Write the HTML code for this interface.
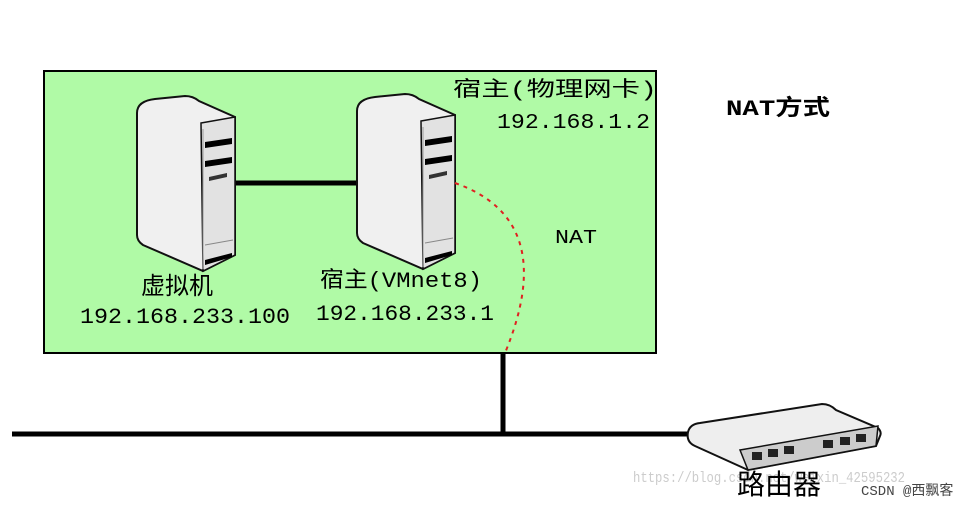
<!DOCTYPE html>
<html><head><meta charset="utf-8"><style>
body{margin:0;background:#fff;}
svg{display:block}
text{font-family:"Liberation Mono","Noto Sans CJK SC",monospace;}
</style></head><body>
<svg width="976" height="506" viewBox="0 0 976 506">
<defs>
<g id="srv">
 <path d="M2,18 Q2,6 20,4 L50,1 Q58,1 64,6 L100,22 L100,160 L68,176 L8,150 Q2,146 2,140 Z" fill="#f0f0f0" stroke="#111" stroke-width="2"/>
 <path d="M66,28 L100,22 L100,160 L68,176 Z" fill="#e2e2e2" stroke="#111" stroke-width="1.5"/>
 <line x1="68" y1="34" x2="68" y2="174" stroke="#999"/>
 <path d="M70,47 L97,43 L97,49 L70,53 Z" fill="#000"/>
 <path d="M70,66 L97,62 L97,68 L70,72 Z" fill="#000"/>
 <path d="M74,82 L92,78 L92,82 L74,86 Z" fill="#333"/>
 <line x1="70" y1="150" x2="98" y2="145" stroke="#888"/>
 <path d="M70,165 L97,158 L97,162 L70,170 Z" fill="#000"/>
</g>
</defs>
<rect x="44" y="71" width="612" height="282" fill="#b0faa6" stroke="#000" stroke-width="2"/>
<line x1="232" y1="183" x2="360" y2="183" stroke="#000" stroke-width="5"/>
<use href="#srv" x="135" y="95"/>
<use href="#srv" x="355" y="93"/>
<path d="M455,183 Q560,220 505,353" fill="none" stroke="#e02020" stroke-width="2" stroke-dasharray="4,5"/>
<line x1="503" y1="353" x2="503" y2="436" stroke="#000" stroke-width="5"/>
<line x1="12" y1="434" x2="700" y2="434" stroke="#000" stroke-width="5"/>
<g>
 <path d="M688,432 Q690,424 700,423 L822,404 Q830,404 836,410 L878,428 Q882,432 880,436 L876,446 L748,470 L695,446 Q686,442 688,432 Z" fill="#eee" stroke="#111" stroke-width="2"/>
 <path d="M740,450 L878,426 L876,446 L748,470 Z" fill="#ccc" stroke="#111" stroke-width="1.5"/>
 <g fill="#222">
  <rect x="752" y="452" width="10" height="8"/><rect x="768" y="449" width="10" height="8"/><rect x="784" y="446" width="10" height="8"/>
  <rect x="823" y="440" width="10" height="8"/><rect x="840" y="437" width="10" height="8"/><rect x="856" y="434" width="10" height="8"/>
 </g>
</g>
<text x="453" y="96" font-size="21" textLength="204" lengthAdjust="spacingAndGlyphs" fill="#000">宿主(物理网卡)</text>
<text x="497" y="128" font-size="21" textLength="153" lengthAdjust="spacingAndGlyphs" fill="#000">192.168.1.2</text>
<text x="726" y="115" font-size="22" font-weight="bold" textLength="104" lengthAdjust="spacingAndGlyphs" fill="#000">NAT方式</text>
<text x="555" y="243" font-size="19" textLength="42" lengthAdjust="spacingAndGlyphs" fill="#000">NAT</text>
<text x="141" y="294" font-size="24" textLength="72" lengthAdjust="spacingAndGlyphs" fill="#000">虚拟机</text>
<text x="80" y="323" font-size="22" textLength="210" lengthAdjust="spacingAndGlyphs" fill="#000">192.168.233.100</text>
<text x="320" y="287" font-size="22" textLength="162" lengthAdjust="spacingAndGlyphs" fill="#000">宿主(VMnet8)</text>
<text x="316" y="320" font-size="22" textLength="178" lengthAdjust="spacingAndGlyphs" fill="#000">192.168.233.1</text>
<text x="633" y="482" font-size="15" fill="#ccc" textLength="272" lengthAdjust="spacingAndGlyphs" font-family="Liberation Sans, sans-serif">https://blog.csdn.net/weixin_42595232</text>
<text x="737" y="494" font-size="28" fill="#000" font-family="Liberation Sans, Noto Sans CJK SC, sans-serif">路由器</text>
<text x="861" y="495" font-size="14" fill="#444" font-family="Liberation Sans, Noto Sans CJK SC, sans-serif">CSDN @西飘客</text>
</svg>
</body></html>
